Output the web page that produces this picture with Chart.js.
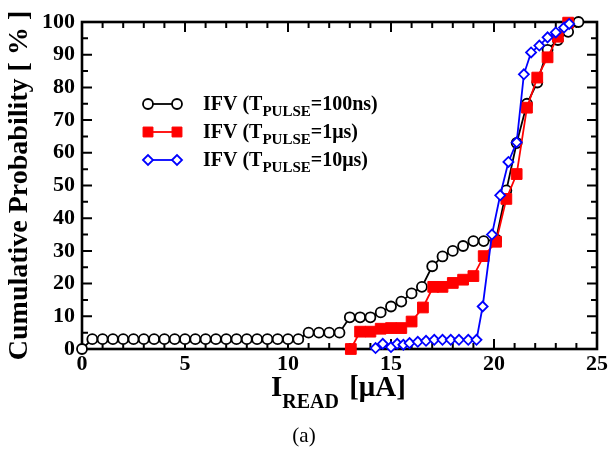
<!DOCTYPE html>
<html><head><meta charset="utf-8">
<script src="https://cdn.jsdelivr.net/npm/chart.js@4/dist/chart.umd.min.js"></script>
<style>html,body{margin:0;padding:0;background:#fff;}#wrap{width:610px;height:451px;}</style>
</head><body><div id="wrap"><canvas id="c" width="610" height="451"></canvas></div>
<script>
// ---- data ----
const xTickValues = [0, 5, 10, 15, 20, 25];
const yTickValues = [0, 10, 20, 30, 40, 50, 60, 70, 80, 90, 100];
const xAxisMain = 'I';
const xAxisSub = 'READ';
const xAxisUnit = ' [\u03BCA]';
const yAxisTitle = 'Cumulative Probability [ % ]';
const panelLabel = '(a)';

const seriesPrefix = ['IFV (T', 'IFV (T', 'IFV (T'];
const seriesSub = ['PULSE', 'PULSE', 'PULSE'];
const seriesSuffix = ['=100ns)', '=1\u03BCs)', '=10\u03BCs)'];

const x100ns = [0, 0.5, 1, 1.5, 2, 2.5, 3, 3.5, 4, 4.5, 5, 5.5, 6, 6.5, 7, 7.5, 8, 8.5, 9, 9.5, 10, 10.5,
  11, 11.5, 12, 12.5, 13, 13.5, 14, 14.5, 15, 15.5, 16, 16.5, 17, 17.5, 18, 18.5, 19, 19.5, 20.1,
  20.6, 21.1, 21.6, 22.1, 22.6, 23.1, 23.6, 24.1];
const y100ns = [0, 3, 3, 3, 3, 3, 3, 3, 3, 3, 3, 3, 3, 3, 3, 3, 3, 3, 3, 3, 3, 3,
  5, 5, 5, 5, 9.7, 9.7, 9.7, 11.2, 13, 14.5, 17, 19, 25.3, 28.3, 30, 31.5, 33, 33, 33.5,
  48.5, 63, 75, 81.5, 91.5, 94.5, 97, 100];

const x1us = [13.05, 13.5, 14, 14.5, 15, 15.5, 16, 16.55, 17.05, 17.5, 18, 18.5, 19, 19.5, 20.1,
  20.6, 21.1, 21.6, 22.1, 22.6, 23.1, 23.6];
const y1us = [0, 5.3, 5.3, 6.2, 6.4, 6.4, 8.4, 12.7, 19, 19, 20.2, 21.2, 22.3, 28.4, 32.8,
  45.9, 53.5, 73.8, 83, 89.2, 95.5, 99.8];

const x10us = [14.25, 14.6, 15.0, 15.3, 15.6, 15.9, 16.3, 16.7, 17.1, 17.5, 17.9, 18.3, 18.75, 19.15,
  19.45, 19.9, 20.3, 20.7, 21.1, 21.45, 21.8, 22.2, 22.6, 23.0, 23.4, 23.65];
const y10us = [0.3, 1.6, 0.6, 1.6, 1.3, 1.8, 2.2, 2.5, 2.8, 2.8, 2.8, 2.8, 2.8, 2.8,
  13, 35, 47, 57.2, 63.2, 84, 90.7, 92.8, 95.3, 96.8, 98.3, 99.4];

const toPts = (xs, ys) => xs.map((x, i) => ({x: x, y: ys[i]}));
const SERIF = "'Liberation Serif', 'Times New Roman', serif";

const seriesStyle = [
  {color: '#000000', pointStyle: 'circle', radius: 5, bg: '#ffffff', bw: 1.8},
  {color: '#ff0000', pointStyle: 'rect', radius: 7.6, bg: '#ff0000', bw: 1},
  {color: '#0000ff', pointStyle: 'rectRot', radius: 5, bg: '#ffffff', bw: 1.8}
];

const framePlugin = {
  id: 'frame',
  beforeDatasetsDraw(chart) {
    const {ctx, chartArea: a, scales: {x, y}} = chart;
    ctx.save();
    ctx.strokeStyle = '#000';
    ctx.lineWidth = 2;
    ctx.beginPath();
    for (let v = 0; v <= 25; v++) {
      const px = x.getPixelForValue(v);
      const len = v % 5 === 0 ? 10 : 6;
      ctx.moveTo(px, a.bottom); ctx.lineTo(px, a.bottom - len);
      ctx.moveTo(px, a.top); ctx.lineTo(px, a.top + len);
    }
    for (let v = 0; v <= 100; v += 5) {
      const py = y.getPixelForValue(v);
      const len = v % 10 === 0 ? 10 : 6;
      ctx.moveTo(a.left, py); ctx.lineTo(a.left + len, py);
      ctx.moveTo(a.right, py); ctx.lineTo(a.right - len, py);
    }
    ctx.stroke();
    ctx.lineWidth = 2.6;
    ctx.strokeRect(a.left, a.top, a.right - a.left, a.bottom - a.top);
    ctx.restore();
  }
};

function drawMarker(ctx, st, x, y) {
  Chart.helpers.drawPoint(ctx, {pointStyle: st.pointStyle, radius: st.radius, borderWidth: st.bw, rotation: 0}, x, y);
}

const textPlugin = {
  id: 'texts',
  afterDatasetsDraw(chart) {
    const ctx = chart.ctx;
    ctx.save();
    ctx.fillStyle = '#000';
    ctx.textBaseline = 'alphabetic';
    ctx.textAlign = 'left';
    // legend
    const rows = [104, 132, 160];
    for (let i = 0; i < 3; i++) {
      const st = seriesStyle[i];
      const ry = rows[i];
      ctx.strokeStyle = st.color;
      ctx.lineWidth = 1.8;
      ctx.beginPath(); ctx.moveTo(148, ry); ctx.lineTo(177, ry); ctx.stroke();
      ctx.fillStyle = st.bg;
      ctx.strokeStyle = st.color;
      ctx.lineWidth = st.bw;
      drawMarker(ctx, Object.assign({}, st, {radius: i === 1 ? 7 : st.radius}), 148, ry);
      drawMarker(ctx, Object.assign({}, st, {radius: i === 1 ? 7 : st.radius}), 177, ry);
      ctx.fillStyle = '#000';
      let tx = 203;
      const base = ry + 6;
      ctx.font = 'bold 20px ' + SERIF;
      ctx.fillText(seriesPrefix[i], tx, base);
      tx += ctx.measureText(seriesPrefix[i]).width;
      ctx.font = 'bold 15px ' + SERIF;
      ctx.fillText(seriesSub[i], tx, base + 6);
      tx += ctx.measureText(seriesSub[i]).width;
      ctx.font = 'bold 20px ' + SERIF;
      ctx.fillText(seriesSuffix[i], tx, base);
    }
    // x axis title
    let tx = 271;
    ctx.font = 'bold 29px ' + SERIF;
    ctx.fillText(xAxisMain, tx, 396);
    tx += ctx.measureText(xAxisMain).width;
    ctx.font = 'bold 20px ' + SERIF;
    ctx.fillText(xAxisSub, tx, 408);
    tx += ctx.measureText(xAxisSub).width + 3;
    ctx.font = 'bold 29px ' + SERIF;
    ctx.fillText(xAxisUnit, tx, 396);
    // panel label
    ctx.font = '21px ' + SERIF;
    ctx.textAlign = 'center';
    ctx.fillText(panelLabel, 304, 442);
    ctx.restore();
  }
};

const datasets = [
  {label: seriesPrefix[0] + seriesSub[0] + seriesSuffix[0], data: toPts(x100ns, y100ns), order: 3},
  {label: seriesPrefix[1] + seriesSub[1] + seriesSuffix[1], data: toPts(x1us, y1us), order: 2},
  {label: seriesPrefix[2] + seriesSub[2] + seriesSuffix[2], data: toPts(x10us, y10us), order: 1}
].map((d, i) => {
  const st = seriesStyle[i];
  return Object.assign(d, {
    borderColor: st.color, borderWidth: 1.8,
    pointStyle: st.pointStyle, pointRadius: st.radius, pointHoverRadius: st.radius,
    pointBackgroundColor: st.bg, pointBorderColor: st.color, pointBorderWidth: st.bw,
    tension: 0, clip: false, fill: false
  });
});

new Chart(document.getElementById('c'), {
  type: 'line',
  data: {datasets: datasets},
  options: {
    responsive: false, animation: false, devicePixelRatio: 1,
    layout: {padding: {left: 0, top: 22, right: 13, bottom: 0}},
    plugins: {legend: {display: false}, tooltip: {enabled: false}},
    scales: {
      x: {
        type: 'linear', min: 0, max: 25,
        afterBuildTicks: s => { s.ticks = xTickValues.map(v => ({value: v})); },
        afterFit: s => { s.height = 102; },
        grid: {display: false, drawTicks: false},
        border: {display: false},
        ticks: {color: '#000', padding: 2, maxRotation: 0, autoSkip: false,
          font: {family: SERIF, size: 22, weight: 'bold'}},
        title: {display: false}
      },
      y: {
        type: 'linear', min: 0, max: 100,
        afterBuildTicks: s => { s.ticks = yTickValues.map(v => ({value: v})); },
        afterFit: s => { s.width = 82; },
        grid: {display: false, drawTicks: false},
        border: {display: false},
        ticks: {color: '#000', padding: 7, autoSkip: false,
          font: {family: SERIF, size: 22, weight: 'bold'}},
        title: {display: true, text: yAxisTitle, color: '#000', padding: {top: 3, bottom: 0},
          font: {family: SERIF, size: 28, weight: 'bold'}}
      }
    }
  },
  plugins: [framePlugin, textPlugin]
});
</script></body></html>
